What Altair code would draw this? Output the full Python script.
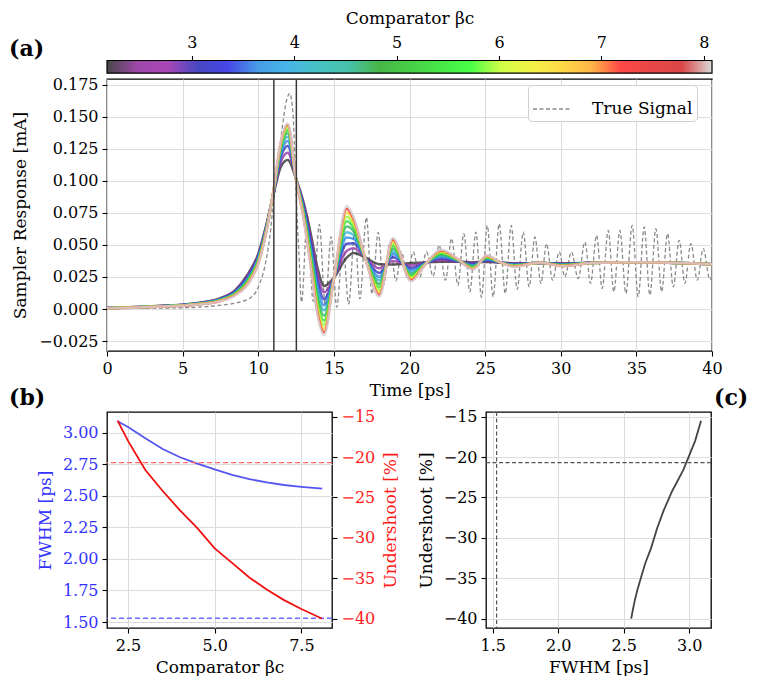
import altair as alt
import pandas as pd

# ---------------- data ----------------
BETA = [2.17, 2.6, 3.1, 3.6, 4.1, 4.7, 5.3, 5.9, 6.6, 7.3, 8.08]

TIME_KEYS = [0, 3, 6, 7.5, 8.5, 9.3, 10.0, 10.5, 11.0, 11.5, 11.95, 12.5, 13.0, 13.5,
             13.9, 14.35, 15.0, 15.85, 16.3, 17.1, 18.0, 18.9, 20.1, 21.0, 22.1, 23.2,
             24.2, 25.1, 26.0, 26.9, 28.6, 30.1, 32.0, 35.0, 40.0]

# one row per time key, one value per beta (mA)
RESPONSE_ROWS = [
    [0.0008, 0.0008, 0.0008, 0.0007, 0.0007, 0.0007, 0.0007, 0.0007, 0.0006, 0.0006, 0.0006],
    [0.0021, 0.0020, 0.0020, 0.0019, 0.0019, 0.0018, 0.0018, 0.0017, 0.0017, 0.0016, 0.0016],
    [0.0048, 0.0046, 0.0044, 0.0043, 0.0042, 0.0040, 0.0039, 0.0038, 0.0037, 0.0036, 0.0035],
    [0.0085, 0.0082, 0.0079, 0.0076, 0.0074, 0.0071, 0.0069, 0.0067, 0.0065, 0.0063, 0.0062],
    [0.0150, 0.0145, 0.0139, 0.0134, 0.0129, 0.0125, 0.0121, 0.0117, 0.0113, 0.0111, 0.0108],
    [0.0270, 0.0260, 0.0248, 0.0239, 0.0231, 0.0222, 0.0214, 0.0207, 0.0200, 0.0195, 0.0190],
    [0.0430, 0.0420, 0.0408, 0.0399, 0.0391, 0.0382, 0.0374, 0.0367, 0.0360, 0.0355, 0.0350],
    [0.0640, 0.0632, 0.0624, 0.0617, 0.0611, 0.0604, 0.0598, 0.0593, 0.0588, 0.0584, 0.0580],
    [0.0890, 0.0894, 0.0898, 0.0902, 0.0905, 0.0908, 0.0911, 0.0914, 0.0916, 0.0918, 0.0920],
    [0.1110, 0.1150, 0.1186, 0.1214, 0.1236, 0.1256, 0.1272, 0.1286, 0.1296, 0.1304, 0.1310],
    [0.1162, 0.1219, 0.1270, 0.1310, 0.1342, 0.1370, 0.1393, 0.1413, 0.1427, 0.1438, 0.1447],
    [0.1015, 0.1015, 0.1014, 0.1014, 0.1013, 0.1013, 0.1012, 0.1012, 0.1011, 0.1010, 0.1010],
    [0.0830, 0.0813, 0.0795, 0.0779, 0.0766, 0.0752, 0.0739, 0.0727, 0.0717, 0.0708, 0.0700],
    [0.0570, 0.0535, 0.0497, 0.0465, 0.0438, 0.0408, 0.0381, 0.0357, 0.0335, 0.0316, 0.0300],
    [0.0330, 0.0282, 0.0230, 0.0186, 0.0149, 0.0108, 0.0071, 0.0038, 0.0008, -0.0018, -0.0040],
    [0.0180, 0.0130, 0.0076, 0.0030, -0.0009, -0.0051, -0.0090, -0.0124, -0.0155, -0.0182, -0.0205],
    [0.0245, 0.0244, 0.0242, 0.0241, 0.0240, 0.0239, 0.0238, 0.0237, 0.0236, 0.0236, 0.0235],
    [0.0400, 0.0453, 0.0509, 0.0558, 0.0598, 0.0643, 0.0684, 0.0720, 0.0752, 0.0781, 0.0805],
    [0.0437, 0.0474, 0.0513, 0.0547, 0.0576, 0.0607, 0.0635, 0.0661, 0.0683, 0.0703, 0.0720],
    [0.0400, 0.0398, 0.0396, 0.0394, 0.0393, 0.0391, 0.0390, 0.0388, 0.0387, 0.0386, 0.0385],
    [0.0350, 0.0317, 0.0281, 0.0251, 0.0225, 0.0197, 0.0171, 0.0149, 0.0128, 0.0110, 0.0095],
    [0.0348, 0.0375, 0.0404, 0.0429, 0.0449, 0.0472, 0.0493, 0.0512, 0.0528, 0.0543, 0.0555],
    [0.0358, 0.0339, 0.0319, 0.0302, 0.0288, 0.0272, 0.0258, 0.0245, 0.0234, 0.0224, 0.0215],
    [0.0363, 0.0360, 0.0357, 0.0354, 0.0352, 0.0349, 0.0347, 0.0345, 0.0343, 0.0341, 0.0340],
    [0.0368, 0.0380, 0.0394, 0.0405, 0.0415, 0.0425, 0.0435, 0.0443, 0.0451, 0.0457, 0.0463],
    [0.0368, 0.0371, 0.0374, 0.0377, 0.0379, 0.0381, 0.0383, 0.0385, 0.0387, 0.0389, 0.0390],
    [0.0365, 0.0358, 0.0350, 0.0343, 0.0337, 0.0331, 0.0325, 0.0320, 0.0315, 0.0311, 0.0308],
    [0.0367, 0.0374, 0.0381, 0.0387, 0.0392, 0.0398, 0.0403, 0.0408, 0.0412, 0.0416, 0.0419],
    [0.0362, 0.0362, 0.0363, 0.0363, 0.0363, 0.0364, 0.0364, 0.0364, 0.0364, 0.0365, 0.0365],
    [0.0357, 0.0353, 0.0350, 0.0346, 0.0344, 0.0341, 0.0338, 0.0336, 0.0334, 0.0332, 0.0330],
    [0.0358, 0.0359, 0.0359, 0.0360, 0.0360, 0.0360, 0.0361, 0.0361, 0.0361, 0.0362, 0.0362],
    [0.0356, 0.0353, 0.0350, 0.0347, 0.0345, 0.0343, 0.0341, 0.0339, 0.0337, 0.0335, 0.0334],
    [0.0360, 0.0360, 0.0360, 0.0359, 0.0359, 0.0359, 0.0359, 0.0359, 0.0358, 0.0358, 0.0358],
    [0.0365, 0.0365, 0.0365, 0.0365, 0.0365, 0.0365, 0.0365, 0.0365, 0.0365, 0.0365, 0.0365],
    [0.0350, 0.0350, 0.0350, 0.0350, 0.0350, 0.0350, 0.0350, 0.0350, 0.0350, 0.0350, 0.0350],
]

TRUE_T = [0, 2, 5, 7.5, 8.8, 9.66, 10.1, 10.43, 10.76, 11.0, 11.2, 11.53, 11.86, 12.08,
          12.3, 12.52, 12.69, 12.86, 13.25, 13.63, 14.04, 14.43, 14.82, 15.19, 15.6, 15.98,
          16.38, 16.72, 17.15, 17.52, 17.93, 18.28, 18.7, 19.1, 19.47, 19.86, 20.24, 20.68,
          21.12, 21.56, 21.96, 22.38, 22.78, 23.2, 23.59, 23.99, 24.39, 24.76, 25.14, 25.53,
          25.93, 26.33, 26.72, 27.12, 27.52, 27.91, 28.29, 28.69, 29.06, 29.46, 29.9, 30.27,
          30.71, 31.15, 31.6, 31.97, 32.37, 32.74, 33.14, 33.51, 33.91, 34.31, 34.72, 35.12,
          35.52, 35.89, 36.29, 36.67, 37.06, 37.44, 37.83, 38.21, 38.6, 39.03, 39.42, 39.86, 40.0]
TRUE_V = [0.0004, 0.0006, 0.0010, 0.0030, 0.0055, 0.0105, 0.0200, 0.0330, 0.0560, 0.0820,
          0.1020, 0.1360, 0.1620, 0.1680, 0.1520, 0.0840, 0.0430, 0.0053, 0.0726, 0.0060,
          0.0660, 0.0030, 0.0565, 0.0015, 0.0500, 0.0040, 0.0620, 0.0080, 0.0715, 0.0118,
          0.0598, 0.0190, 0.0520, 0.0220, 0.0445, 0.0238, 0.0445, 0.0251, 0.0445, 0.0256,
          0.0497, 0.0225, 0.0549, 0.0186, 0.0588, 0.0135, 0.0600, 0.0090, 0.0652, 0.0096,
          0.0665, 0.0122, 0.0652, 0.0153, 0.0600, 0.0173, 0.0562, 0.0200, 0.0510, 0.0225,
          0.0445, 0.0251, 0.0445, 0.0238, 0.0523, 0.0200, 0.0575, 0.0160, 0.0613, 0.0135,
          0.0613, 0.0122, 0.0652, 0.0096, 0.0640, 0.0109, 0.0626, 0.0135, 0.0588, 0.0173,
          0.0536, 0.0200, 0.0510, 0.0225, 0.0471, 0.0230, 0.0260]

FWHM_MARKERS = [11.03, 12.52]          # ps, half-maximum crossings of the true signal

SWEEP_BETA = [2.2, 2.5, 3.0, 3.5, 4.0, 4.5, 5.0, 5.5, 6.0, 6.5, 7.0, 7.5, 8.1]
SWEEP_FWHM = [3.09, 3.045, 2.955, 2.87, 2.805, 2.755, 2.708, 2.665, 2.632, 2.605, 2.585, 2.571, 2.557]
SWEEP_UNDERSHOOT = [-15.5, -18.0, -21.6, -24.2, -26.6, -28.8, -31.3, -33.1, -34.9, -36.4, -37.7, -38.8, -40.0]
TRUE_FWHM = 1.53
TRUE_UNDERSHOOT = -20.7

# ---------------- styles ----------------
FONT = "DejaVu Serif"
BLUE_TXT = "#3333ff"
RED_TXT = "#ff1a1a"
NIPY = [(0, 0, 0), (0.467, 0, 0.533), (0.533, 0, 0.6), (0, 0, 0.667), (0, 0, 0.867),
        (0, 0.467, 0.867), (0, 0.6, 0.867), (0, 0.667, 0.667), (0, 0.667, 0.533), (0, 0.6, 0),
        (0, 0.733, 0), (0, 0.867, 0), (0, 1, 0), (0.733, 1, 0), (0.933, 0.933, 0), (1, 0.8, 0),
        (1, 0.6, 0), (1, 0, 0), (0.867, 0, 0), (0.8, 0, 0), (0.8, 0.8, 0.8)]


def hexc(rgb, alpha=1.0):
    return "#%02x%02x%02x" % tuple(int(round(255 * (alpha * c + 1 - alpha))) for c in rgb)


BMIN, BMAX = min(BETA), max(BETA)
stop_pos = [BMIN + (BMAX - BMIN) * k / (len(NIPY) - 1) for k in range(len(NIPY))]
line_colors = [hexc(c, 0.8) for c in NIPY]
bar_colors = [hexc(c, 0.72) for c in NIPY]

# ---------------- tables ----------------
resp = pd.DataFrame([{"t": t, "beta": b, "v": v}
                     for t, vals in zip(TIME_KEYS, RESPONSE_ROWS)
                     for b, v in zip(BETA, vals)])
true_df = pd.DataFrame({"t": TRUE_T, "v": TRUE_V, "series": "True Signal"})
marks_df = pd.DataFrame({"t": FWHM_MARKERS})
sweep = pd.DataFrame({"beta": SWEEP_BETA, "fwhm": SWEEP_FWHM, "under": SWEEP_UNDERSHOOT})


def label(txt, x, y):
    return alt.Chart(pd.DataFrame({"lab": [txt]})).mark_text(
        font=FONT, fontSize=22, fontWeight="bold", align="left", baseline="middle", color="black"
    ).encode(text="lab:N", x=alt.value(x), y=alt.value(y))


# ---------------- colorbar (drawn above panel a) ----------------
grad = alt.LinearGradient(
    gradient="linear", x1=0, x2=1, y1=0, y2=0,
    stops=[alt.GradientStop(offset=k / (len(NIPY) - 1), color=c) for k, c in enumerate(bar_colors)])
cbar = alt.Chart(pd.DataFrame({"lo": [BMIN], "hi": [BMAX]})).mark_rect(
    color=grad, stroke="black", strokeWidth=1.2
).encode(
    x=alt.X("lo:Q", scale=alt.Scale(domain=[BMIN, BMAX], nice=False, zero=False),
            axis=alt.Axis(orient="top", offset=18.5, values=[3, 4, 5, 6, 7, 8], format="d", grid=False,
                          title="Comparator βc", labelPadding=5, titlePadding=7)),
    x2="hi:Q",
    y=alt.value(-18.5),
    y2=alt.value(-5.8),
)

# ---------------- panel (a) ----------------
xa = alt.X("t:Q", scale=alt.Scale(domain=[0, 40], nice=False),
           axis=alt.Axis(values=list(range(0, 41, 5)), title="Time [ps]", titlePadding=6))
ya = alt.Y("v:Q", scale=alt.Scale(domain=[-0.0327, 0.1793], nice=False, zero=False),
           axis=alt.Axis(values=[-0.025, 0, 0.025, 0.05, 0.075, 0.1, 0.125, 0.15, 0.175],
                         format=".3f", title="Sampler Response [mA]", titlePadding=9,
                         labelOverlap=False))

true_line = alt.Chart(true_df).mark_line(interpolate="monotone", color="#8a8a8a", strokeWidth=1.3).encode(
    x=xa, y=ya,
    strokeDash=alt.StrokeDash("series:N", scale=alt.Scale(domain=["True Signal"], range=[[4, 2.5]]),
                              legend=alt.Legend(title=None, orient="none", legendX=421, legendY=6,
                                                strokeColor="#cfcfcf", fillColor="white",
                                                cornerRadius=4, padding=4, labelFont=FONT,
                                                labelFontSize=17, labelColor="black",
                                                symbolType="stroke", symbolSize=1450,
                                                symbolStrokeWidth=1.3, symbolStrokeColor="#8a8a8a",
                                                labelOffset=20)),
)
beta_lines = alt.Chart(resp).mark_line(interpolate="monotone", strokeWidth=2.5, opacity=0.8,
                                       strokeJoin="round").encode(
    x=xa, y=ya,
    color=alt.Color("beta:Q", scale=alt.Scale(domain=stop_pos, range=line_colors, interpolate="rgb"),
                    legend=None),
    detail="beta:Q",
)
vrules = alt.Chart(marks_df).mark_rule(color="#3a3a3a", strokeWidth=1.5).encode(x=xa)

panel_a = alt.layer(
    alt.layer(true_line, beta_lines, vrules, label("(a)", -98, -30)),
    cbar,
).resolve_scale(x="independent").properties(width=605, height=272)

# ---------------- panel (b) ----------------
xb = alt.X("beta:Q", scale=alt.Scale(domain=[1.894, 8.383], nice=False, zero=False),
           axis=alt.Axis(values=[2.5, 5.0, 7.5], format=".1f", title="Comparator βc", titlePadding=6))
yb_blue = alt.Y("fwhm:Q", scale=alt.Scale(domain=[1.453, 3.163], nice=False, zero=False),
                axis=alt.Axis(values=[1.5, 1.75, 2.0, 2.25, 2.5, 2.75, 3.0], format=".2f",
                              title="FWHM [ps]", labelColor=BLUE_TXT, titleColor=BLUE_TXT,
                              titlePadding=8, labelOverlap=False))
yb_red = alt.Y("under:Q", scale=alt.Scale(domain=[-41.15, -14.43], nice=False, zero=False),
               axis=alt.Axis(orient="right", values=[-40, -35, -30, -25, -20, -15], format="d", grid=False,
                             title="Undershoot [%]", labelColor=RED_TXT, titleColor=RED_TXT,
                             titleAngle=270, titleBaseline="top", titlePadding=8, labelOverlap=False))

blue_line = alt.Chart(sweep).mark_line(color="#5555f0", strokeWidth=1.8).encode(x=xb, y=yb_blue)
blue_dash = alt.Chart(pd.DataFrame({"fwhm": [TRUE_FWHM]})).mark_rule(
    color="#6b6bff", strokeDash=[5, 3], strokeWidth=1.3).encode(y=yb_blue)
red_line = alt.Chart(sweep).mark_line(color="#f01010", strokeWidth=1.8).encode(x=xb, y=yb_red)
red_dash = alt.Chart(pd.DataFrame({"under": [TRUE_UNDERSHOOT]})).mark_rule(
    color="#ff6b6b", strokeDash=[5, 3], strokeWidth=1.3).encode(y=yb_red)

panel_b = alt.layer(
    alt.layer(blue_line, blue_dash, label("(b)", -98, -14)),
    alt.layer(red_line, red_dash),
).resolve_scale(y="independent").properties(width=225, height=216)

# ---------------- panel (c) ----------------
xc = alt.X("fwhm:Q", scale=alt.Scale(domain=[1.449, 3.166], nice=False, zero=False),
           axis=alt.Axis(values=[1.5, 2.0, 2.5, 3.0], format=".1f", title="FWHM [ps]", titlePadding=6))
yc = alt.Y("under:Q", scale=alt.Scale(domain=[-41.15, -14.43], nice=False, zero=False),
           axis=alt.Axis(values=[-40, -35, -30, -25, -20, -15], format="d", title="Undershoot [%]",
                         titlePadding=8, labelOverlap=False))
c_line = alt.Chart(sweep).mark_line(color="#444444", strokeWidth=1.8).encode(x=xc, y=yc)
c_v = alt.Chart(pd.DataFrame({"fwhm": [TRUE_FWHM]})).mark_rule(
    color="#555555", strokeDash=[4, 2.5], strokeWidth=1.2).encode(x=xc)
c_h = alt.Chart(pd.DataFrame({"under": [TRUE_UNDERSHOOT]})).mark_rule(
    color="#555555", strokeDash=[4, 2.5], strokeWidth=1.2).encode(y=yc)
panel_c = alt.layer(c_line, c_v, c_h, label("(c)", 228, -14)).properties(width=225, height=216)

# ---------------- assemble ----------------
bottom = alt.hconcat(panel_b, panel_c, spacing=16)
chart = alt.vconcat(panel_a, bottom, spacing=-13).properties(
    padding={"left": 0, "top": 0, "right": 0, "bottom": 0}
).configure(font=FONT).configure_view(
    stroke="black", strokeWidth=1.3
).configure_axis(
    labelFont=FONT, labelFontSize=16, titleFont=FONT, titleFontSize=17, titleFontWeight="normal",
    labelColor="black", titleColor="black", tickColor="black", tickSize=5, tickWidth=1.1,
    domain=False, gridColor="#dcdcdc", gridWidth=1, labelFlush=False, labelOverlap=False,
    labelPadding=4,
)

chart.save("out.html", embed_options={"renderer": "svg", "actions": False})
